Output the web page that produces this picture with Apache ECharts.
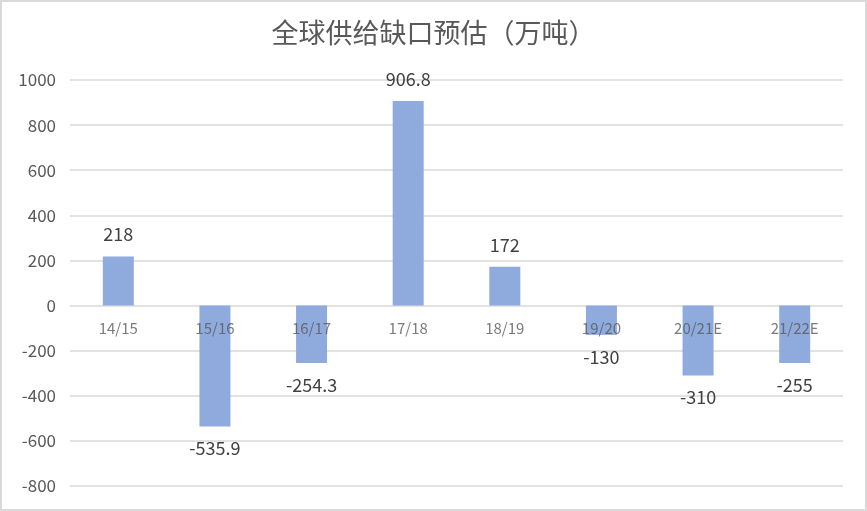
<!DOCTYPE html>
<html>
<head>
<meta charset="utf-8">
<script src="https://cdn.jsdelivr.net/npm/echarts@6/dist/echarts.min.js"></script>
<style>
    html, body { margin: 0; padding: 0; background: #fff; }
    #chart { width: 867px; height: 511px; box-sizing: border-box; border: 2px solid #d9d9d9; }
</style>
</head>
<body>
<div id="chart"></div>
<script>
// 年度
const seasons = ['14/15', '15/16', '16/17', '17/18', '18/19', '19/20', '20/21E', '21/22E'];
// 供给缺口（万吨）
const gapValues = [218, -535.9, -254.3, 906.8, 172, -130, -310, -255];
// 纵轴刻度
const yMin = -800;
const yMax = 1000;
const yStep = 200;

const FONT = '"Noto Sans CJK SC", "Noto Sans", sans-serif';

let chart = echarts.init(document.getElementById('chart'));

// 正值标签在上，负值标签在下
let barData = gapValues.map(function (v) {
    return {
        value: v,
        label: { position: v >= 0 ? 'top' : 'bottom' }
    };
});

// 类目标签放在0刻度线下方（和原图一样压在柱子上）
let axisNameData = seasons.map(function (name) {
    return [name, 0];
});

let option = {
    backgroundColor: '#fff',
    animation: false,
    title: {
        text: '全球供给缺口预估（万吨）',
        left: 'center',
        top: 12,
        textStyle: {
            fontFamily: FONT,
            fontSize: 27,
            fontWeight: 'normal',
            color: '#595959'
        }
    },
    grid: {
        left: 68,
        right: 22,
        top: 78,
        bottom: 23,
        containLabel: false
    },
    xAxis: {
        type: 'category',
        data: seasons,
        axisLine: { show: false },
        axisTick: { show: false },
        axisLabel: { show: false }
    },
    yAxis: {
        type: 'value',
        min: yMin,
        max: yMax,
        interval: yStep,
        axisLine: { show: false },
        axisTick: { show: false },
        splitLine: { lineStyle: { color: '#d9d9d9', width: 1.5 } },
        axisLabel: {
            margin: 14,
            fontFamily: FONT,
            fontSize: 17,
            color: '#595959',
            formatter: function (v) { return String(v); }
        }
    },
    series: [{
        type: 'bar',
        data: barData,
        barWidth: 31,
        itemStyle: { color: '#8faadc' },
        label: {
            show: true,
            distance: 13,
            fontFamily: FONT,
            fontSize: 18,
            color: '#404040'
        }
    }, {
        type: 'scatter',
        data: axisNameData,
        symbolSize: 0,
        z: 5,
        silent: true,
        label: {
            show: true,
            position: 'bottom',
            distance: 15,
            formatter: function (p) { return p.value[0]; },
            fontFamily: FONT,
            fontSize: 15,
            color: '#595959'
        }
    }]
};

chart.setOption(option);
</script>
</body>
</html>
